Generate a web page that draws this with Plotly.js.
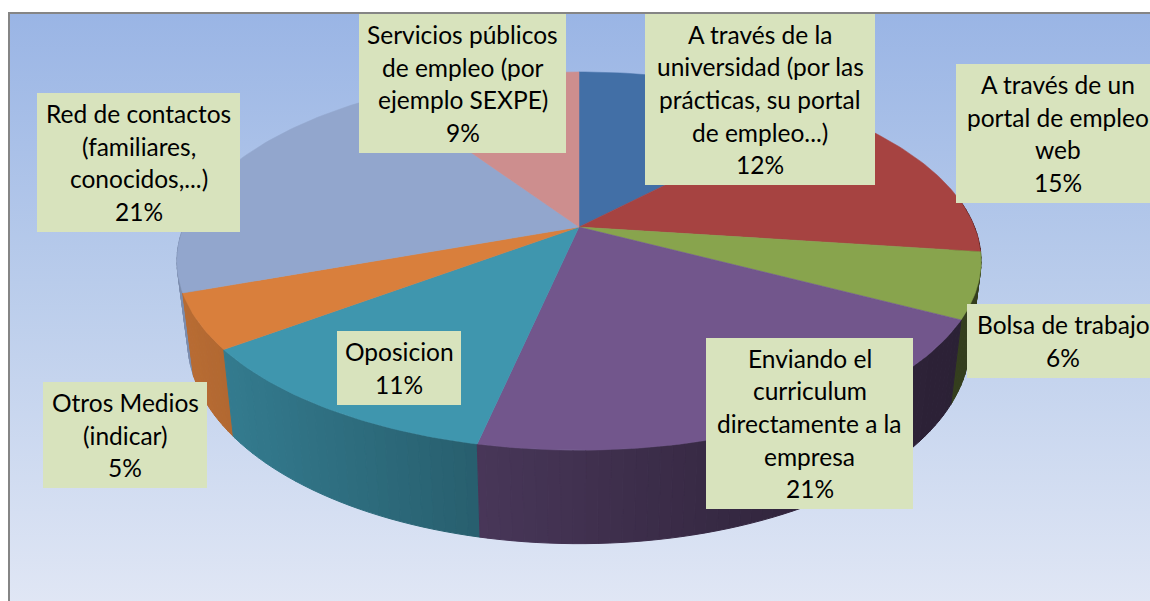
<!DOCTYPE html>
<html><head><meta charset="utf-8">
<script src="https://cdn.plot.ly/plotly-3.0.1.min.js"></script>
<style>
html,body{margin:0;padding:0;background:#fff;width:1150px;height:601px;overflow:hidden}
#bg{position:absolute;left:8px;top:12px;width:1160px;height:600px;box-sizing:border-box;border:2px solid #858585;
background:linear-gradient(180deg,#9ab5e5 0%,#b9cceb 45%,#e1e7f5 100%)}
#chart{position:absolute;left:0;top:0;width:1150px;height:601px}
</style></head><body>
<div id="bg"></div><div id="chart"></div>
<script>
// ---- data, clockwise from 12 o'clock ----
const categories = [
  "A través de la universidad (por las prácticas, su portal de empleo...)",
  "A través de un portal de empleo web",
  "Bolsa de trabajo",
  "Enviando el curriculum directamente a la empresa",
  "Oposicion",
  "Otros Medios (indicar)",
  "Red de contactos (familiares, conocidos,...)",
  "Servicios públicos de empleo (por ejemplo SEXPE)"
];
const values = [12.1, 15, 5.6, 20.7, 11.4, 4.7, 21.1, 9.4];
const colors = ["#426fa6","#a64341","#88a44d","#72568c","#3f96ae","#d97f3c","#92a6cd","#cd8e8e"];
const labelLines = [
  ["A través de la","universidad (por las","prácticas, su portal","de empleo...)"],
  ["A través de un","portal de empleo","web"],
  ["Bolsa de trabajo"],
  ["Enviando el","curriculum","directamente a la","empresa"],
  ["Oposicion"],
  ["Otros Medios","(indicar)"],
  ["Red de contactos","(familiares,","conocidos,...)"],
  ["Servicios públicos","de empleo (por","ejemplo SEXPE)"]
];
// ---- label box placement [x0,y0,x1,y1] ----
const labelBoxes = [
  [645,14,875,185],[956,64,1160,203],[967,304,1159,378],[706,338,913,509],
  [337,331,461,405],[43,382,207,488],[37,93,240,232],[359,14,566,153]
];
// ---- projection of the tilted disc ----
const CX=579, CY=227, A=395.5, B=183, K=0.18, SHRINK=0.973;
const total = values.reduce((a,b)=>a+b,0);
function topPt(deg){
  const r=deg*Math.PI/180, u=Math.sin(r), v=-Math.cos(r), w=1-K*v;
  return [CX+A*u/w, CY+B*v/w, v];
}
function botPt(deg){
  const p=topPt(deg);
  return [CX+(p[0]-CX)*SHRINK, p[1]+77+16.5*p[2]];
}
function shade(hex,f){
  const n=parseInt(hex.slice(1),16);
  return `rgb(${Math.round((n>>16&255)*f)},${Math.round((n>>8&255)*f)},${Math.round((n&255)*f)})`;
}
function sideFactor(x){
  const xs=[180,480,800,960], fs=[.85,.63,.43,.38];
  if(x<=xs[0])return fs[0];
  for(let i=1;i<xs.length;i++) if(x<=xs[i]) return fs[i-1]+(fs[i]-fs[i-1])*(x-xs[i-1])/(xs[i]-xs[i-1]);
  return fs[fs.length-1];
}
const starts=[]; let acc=0;
values.forEach(v=>{starts.push(acc/total*360); acc+=v;});
const ends=values.map((v,i)=>starts[i]+v/total*360);

const poly=(xs,ys,color,name,w)=>({type:"scatter",mode:"lines",x:xs,y:ys,fill:"toself",fillcolor:color,
  line:{color:color,width:w},hoverinfo:"skip",showlegend:false,name:name});

// side wall: strips per slice, split at slice edges, far edges drawn first
const strips=[];
const STEP=1.5, FROM=80, TO=280;
values.forEach((v,idx)=>{
  const lo=Math.max(FROM,starts[idx]), hi=Math.min(TO,ends[idx]);
  for(let a=lo;a<hi;a+=STEP){
    const b=Math.min(a+STEP,hi), mid=(a+b)/2;
    const p=[topPt(a),topPt(b),botPt(b),botPt(a)];
    const xm=(p[0][0]+p[1][0])/2;
    strips.push({depth:Math.abs(mid-180),t:poly(p.map(q=>q[0]).concat(p[0][0]),p.map(q=>q[1]).concat(p[0][1]),
      shade(colors[idx],sideFactor(xm)),categories[idx]+" (lateral)",1)});
  }
});
strips.sort((s,t)=>t.depth-s.depth);
const traces=strips.map(s=>s.t);

// top face
values.forEach((v,i)=>{
  const xs=[CX], ys=[CY];
  for(let d=starts[i];d<ends[i];d+=1){const p=topPt(d);xs.push(p[0]);ys.push(p[1]);}
  const e=topPt(ends[i]);xs.push(e[0],CX);ys.push(e[1],CY);
  traces.push(poly(xs,ys,colors[i],categories[i],0.5));
});

// labels
const LH=32.6;
const shapes=labelBoxes.map(b=>({type:"rect",xref:"x",yref:"y",x0:b[0],y0:b[1],x1:b[2],y1:b[3],
  fillcolor:"#d8e3bd",line:{width:0},layer:"above"}));
const annotations=[];
labelLines.forEach((lines,i)=>{
  const b=labelBoxes[i], all=lines.concat(Math.round(values[i]/total*100)+"%");
  const top=(b[1]+b[3])/2-(all.length-1)*LH/2;
  all.forEach((t,j)=>annotations.push({x:(b[0]+b[2])/2,y:top+j*LH,xref:"x",yref:"y",text:t,showarrow:false,
    xanchor:"center",yanchor:"middle",font:{family:"Lato, Carlito, sans-serif",size:24.5,color:"#000000"}}));
});

Plotly.newPlot("chart",traces,{
  width:1150,height:601,margin:{l:0,r:0,t:0,b:0},
  paper_bgcolor:"rgba(0,0,0,0)",plot_bgcolor:"rgba(0,0,0,0)",showlegend:false,hovermode:false,
  xaxis:{range:[0,1150],visible:false,fixedrange:true},
  yaxis:{range:[601,0],visible:false,fixedrange:true},
  shapes,annotations
},{displayModeBar:false,staticPlot:true});
</script></body></html>
